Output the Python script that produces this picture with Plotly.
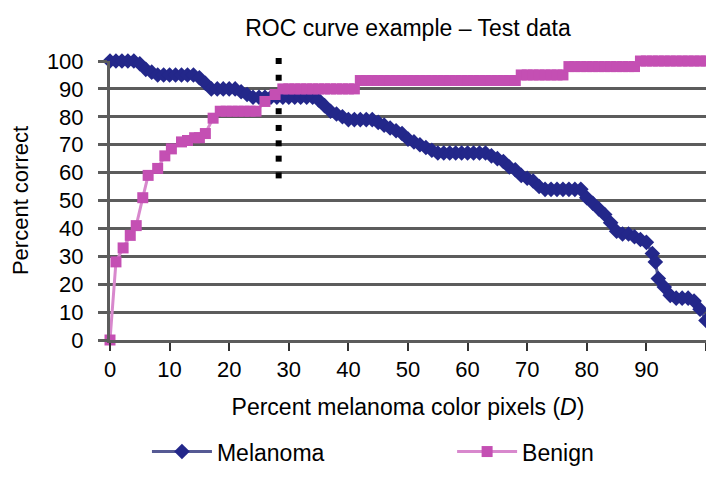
import plotly.graph_objects as go

# Melanoma (percent correct vs threshold D)
mel_x = [0, 1, 2, 3, 4, 5, 6, 7, 8, 9, 10, 11, 12, 13, 14, 15, 16, 17, 18, 19,
         20, 21, 22, 23, 24, 25, 26, 27, 28, 29, 30, 31, 32, 33, 34, 35, 36, 37, 38, 39,
         40, 41, 42, 43, 44, 45, 46, 47, 48, 49, 50, 51, 52, 53, 54, 55, 56, 57, 58, 59,
         60, 61, 62, 63, 64, 65, 66, 67, 68, 69, 70, 71, 72, 73, 74, 75, 76, 77, 78, 79,
         80, 81, 82, 83, 84, 85, 86, 87, 88, 89, 90, 91, 91.5, 92, 93, 94, 95, 96, 97, 98,
         99, 100]
mel_y = [100, 100, 100, 100, 100, 99, 97, 96, 95, 95, 95, 95, 95, 95, 95, 94, 92, 90, 90, 90,
         90, 90, 89, 88, 87, 87, 87, 87, 87, 87, 87, 87, 87, 87, 87, 86, 84, 82, 81, 80,
         79, 79, 79, 79, 79, 78, 77, 76, 75, 74, 72, 71, 70, 69, 68, 67, 67, 67, 67, 67,
         67, 67, 67, 67, 66, 65, 64, 62, 61, 59, 58, 57, 55, 54, 54, 54, 54, 54, 54, 54,
         51, 49, 47, 45, 42, 39, 38, 38, 37, 36, 35, 31, 28, 22, 19, 16, 15, 15, 15, 14,
         11, 7]

# Benign
ben_x = [0, 1, 2.2, 3.4, 4.4, 5.5, 6.4, 8, 9.2, 10.3, 12, 13, 14.2, 15, 16, 17.3, 18.5, 19.5,
         20.5, 21.5, 22.5, 23.5, 24.5, 26, 27.7, 29, 30, 31, 32, 33, 34, 35, 36, 37, 38, 39,
         40, 41, 42, 43, 44, 45, 46, 47, 48, 49, 50, 51, 52, 53, 54, 55, 56, 57, 58, 59,
         60, 61, 62, 63, 64, 65, 66, 67, 68, 69, 70, 71, 72, 73, 74, 75, 76, 77, 78, 79,
         80, 81, 82, 83, 84, 85, 86, 87, 88, 89, 90, 91, 92, 93, 94, 95, 96, 97, 98, 99, 100]
ben_y = [0, 28, 33, 37.5, 41, 51, 59, 61.5, 66, 68.5, 71, 71.5, 72.5, 72.5, 74, 79.5, 82, 82,
         82, 82, 82, 82, 82, 85.5, 88, 90, 90, 90, 90, 90, 90, 90, 90, 90, 90, 90,
         90, 90, 93, 93, 93, 93, 93, 93, 93, 93, 93, 93, 93, 93, 93, 93, 93, 93, 93, 93,
         93, 93, 93, 93, 93, 93, 93, 93, 93, 95, 95, 95, 95, 95, 95, 95, 95, 98, 98, 98,
         98, 98, 98, 98, 98, 98, 98, 98, 98, 100, 100, 100, 100, 100, 100, 100, 100, 100, 100, 100, 100]

# dotted cut-off marker
cutoff_x = 28.3
cutoff_y = [59, 65, 70.5, 76, 82, 88, 94, 100]

x_ticks = [0, 10, 20, 30, 40, 50, 60, 70, 80, 90, 100]
x_ticktext = ["0", "10", "20", "30", "40", "50", "60", "70", "80", "90", ""]
y_ticks = [0, 10, 20, 30, 40, 50, 60, 70, 80, 90, 100]

FONT = "Liberation Sans, Arial, sans-serif"
GRID = "#5c5c5c"

fig = go.Figure()

fig.add_trace(go.Scatter(
    x=[cutoff_x] * len(cutoff_y),
    y=cutoff_y,
    mode="markers",
    marker=dict(symbol="square", size=6, color="black"),
    showlegend=False,
    cliponaxis=False
))

fig.add_trace(go.Scatter(
    x=mel_x,
    y=mel_y,
    mode="lines+markers",
    name="Melanoma",
    line=dict(color="#565a94", width=3),
    marker=dict(symbol="diamond", size=12, color="#23278a"),
    cliponaxis=False,
    legend="legend"
))

fig.add_trace(go.Scatter(
    x=ben_x,
    y=ben_y,
    mode="lines+markers",
    name="Benign",
    line=dict(color="#d888cd", width=3),
    marker=dict(symbol="square", size=11, color="#c44fb3"),
    cliponaxis=False,
    legend="legend2"
))

legend_style = dict(
    orientation="h",
    yanchor="middle",
    y=-0.40,
    xanchor="left",
    itemwidth=60,
    font=dict(size=23),
    bgcolor="rgba(0,0,0,0)",
)

fig.update_layout(
    width=714,
    height=477,
    margin=dict(l=102, r=16, t=53, b=137),
    paper_bgcolor="white",
    plot_bgcolor="white",
    font=dict(family=FONT, size=22, color="black"),
    title=dict(text="ROC curve example \u2013 Test data", xref="paper", x=0.5, xanchor="center",
               yref="container", y=0.958, yanchor="middle", font=dict(size=23)),
    xaxis=dict(
        range=[0, 100],
        tickvals=x_ticks,
        ticktext=x_ticktext,
        ticks="outside", ticklen=8, tickwidth=2, tickcolor="#333333",
        tickfont=dict(size=22),
        showgrid=False, zeroline=False,
        showline=True, linecolor=GRID, linewidth=3,
        automargin=False,
        title=dict(text="Percent melanoma color pixels (<i>D</i>)", standoff=18,
                   font=dict(size=23)),
    ),
    yaxis=dict(
        range=[0, 100],
        tickvals=y_ticks,
        ticks="outside", ticklen=9, tickwidth=3, tickcolor=GRID,
        tickfont=dict(size=22),
        ticklabelstandoff=10,
        showgrid=True, gridcolor=GRID, gridwidth=3,
        zeroline=False,
        showline=True, linecolor=GRID, linewidth=3,
        automargin=False,
        title=dict(text="Percent correct", standoff=17, font=dict(size=22)),
    ),
    legend=dict(legend_style, x=0.062),
    legend2=dict(legend_style, x=0.574),
)

fig.write_html("out.html")
